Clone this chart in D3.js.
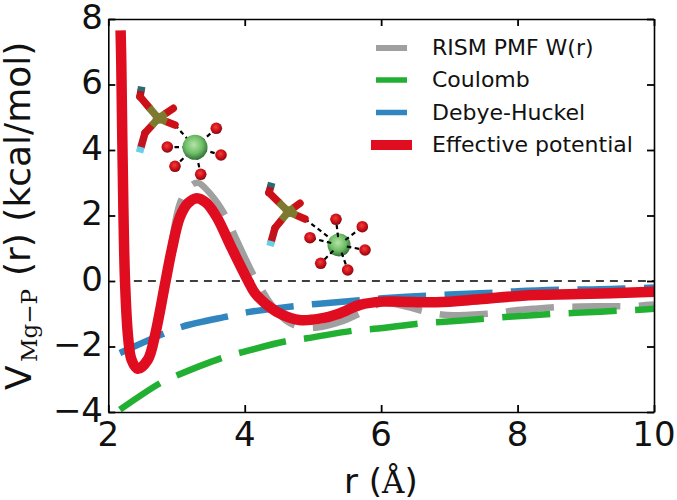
<!DOCTYPE html>
<html><head><meta charset="utf-8">
<script src="https://cdnjs.cloudflare.com/ajax/libs/d3/7.8.5/d3.min.js"></script>
<style>html,body{margin:0;padding:0;background:#fff}svg{display:block}text{font-family:"DejaVu Sans";fill:#111}</style>
</head><body><svg id="c" width="677" height="500"></svg>
<script>
const xTicks=[2,4,6,8,10];
const yTicks=[-4,-2,0,2,4,6,8];
const legendNames=["RISM PMF W(r)","Coulomb","Debye-Huckel","Effective potential"];
const rismR=[2.18,2.21,2.245,2.29,2.34,2.43,2.58,2.68,2.84,2.93,3.05,3.18,3.31,3.5,3.73,3.85,4.15,4.4,4.6,4.8,5.07,5.4,5.73,6.02,6.3,6.68,6.97,7.3,7.68,7.95,8.3,8.66,8.93,9.3,9.65,10];
const rismV=[7.65,3.7,0,-1.7,-2.4,-2.68,-2.4,-1.7,0,1.2,2.38,2.85,3.0,2.65,1.95,1.4,0.1,-0.75,-1.2,-1.4,-1.42,-1.25,-0.95,-0.67,-0.75,-0.95,-1.04,-1.03,-0.98,-0.9,-0.84,-0.79,-0.78,-0.77,-0.77,-0.72];
const coulombR=[2.17,2.76,3.02,3.68,3.95,4.63,4.91,5.61,5.9,6.6,6.88,7.59,7.87,8.57,8.86,9.57,9.85,10];
const coulombV=[-3.93,-3.12,-2.87,-2.34,-2.18,-1.83,-1.75,-1.51,-1.46,-1.29,-1.25,-1.14,-1.09,-1.0,-0.97,-0.9,-0.87,-0.85];
const debyeR=[2.17,2.8,3.09,3.78,4.05,4.76,5.05,5.73,6.02,6.73,7,7.72,8,8.7,9,9.7,10];
const debyeV=[-2.2,-1.62,-1.39,-1.07,-0.95,-0.76,-0.7,-0.58,-0.53,-0.44,-0.41,-0.35,-0.31,-0.26,-0.26,-0.22,-0.2];
const effR=[2.18,2.19,2.21,2.245,2.29,2.34,2.43,2.58,2.68,2.84,2.93,3.05,3.17,3.3,3.44,3.59,3.81,4.05,4.15,4.37,4.56,4.8,5.1,5.39,5.69,6.02,6.27,6.81,7.44,8.07,8.9,10];
const effV=[7.65,6.7,3.69,0,-1.7,-2.4,-2.68,-2.4,-1.7,0,0.95,1.95,2.38,2.53,2.38,1.95,1,0,-0.37,-0.8,-1.04,-1.19,-1.15,-0.99,-0.73,-0.63,-0.63,-0.65,-0.56,-0.45,-0.4,-0.33];
const zeroR=[2.17,10];
const zeroV=[0,0];

const svg=d3.select("#c");
const x=d3.scaleLinear().domain([2,10]).range([108.3,654]);
const y=d3.scaleLinear().domain([-4,8]).range([412,19]);
const line=d3.line().x(d=>x(d[0])).y(d=>y(d[1])).curve(d3.curveCatmullRom.alpha(0.5));
const zip=(a,b)=>a.map((v,i)=>[v,b[i]]);
const cols={g:"#a0a0a0",c:"#22b033",b:"#3186c0",r:"#e00c20"};

// gradients
const defs=svg.append("defs");
function grad(id,c0,c1,c2){const g=defs.append("radialGradient").attr("id",id).attr("cx","45%").attr("cy","40%").attr("r","62%");
 g.append("stop").attr("offset","0%").attr("stop-color",c0);g.append("stop").attr("offset","55%").attr("stop-color",c1);g.append("stop").attr("offset","100%").attr("stop-color",c2);}
grad("mg","#b6e3a6","#6fbf68","#2f6b35");
grad("ox","#f0403c","#d01018","#7a0a10");

// zero line
svg.append("path").attr("d",line(zip(zeroR,zeroV))).attr("fill","none").attr("stroke","#000").attr("stroke-width",1.4).attr("stroke-dasharray","8 6");

// curves
const curves=[[rismR,rismV,cols.g,6.5,"48 18.5",-6],[coulombR,coulombV,cols.c,6.5,"48 18.5",0],[debyeR,debyeV,cols.b,6.5,"48 18.5",0]];
curves.forEach(c=>svg.append("path").attr("d",line(zip(c[0],c[1]))).attr("fill","none").attr("stroke",c[2]).attr("stroke-width",c[3]).attr("stroke-dasharray",c[4]).attr("stroke-dashoffset",c[5]));
svg.append("path").attr("d",line(zip(effR,effV))).attr("fill","none").attr("stroke",cols.r).attr("stroke-width",10.5).attr("stroke-linejoin","round");

// molecules
function molecule(P,tip,side,up,teal,low,cyan,Mg,rMg,oxs){
 const g=svg.append("g");
 const bond=(a,b,col,w)=>g.append("line").attr("x1",a[0]).attr("y1",a[1]).attr("x2",b[0]).attr("y2",b[1]).attr("stroke",col).attr("stroke-width",w);
 const lerp=(a,b,f)=>[a[0]+(b[0]-a[0])*f,a[1]+(b[1]-a[1])*f];
 oxs.forEach(o=>bond(Mg,o,"#000",2.2).attr("stroke-dasharray","4.5 3.5"));
 bond(tip,Mg,"#000",2.2).attr("stroke-dasharray","4.5 3.5");
 bond(up,lerp(up,teal,0.55),"#b01420",7.5).attr("stroke-linecap","round");bond(lerp(up,teal,0.55),teal,"#2c6a72",7.5);
 bond(low,lerp(low,cyan,0.72),"#c01420",7.5).attr("stroke-linecap","round");bond(lerp(low,cyan,0.72),cyan,"#66d0e4",7.5);
 [tip,side,up,low].forEach(e=>{const m=lerp(P,e,0.5);bond(m,e,"#cc1018",7.5).attr("stroke-linecap","round");bond(P,m,"#7d7a30",7.5);});
 g.append("circle").attr("cx",P[0]).attr("cy",P[1]).attr("r",5.5).attr("fill","#7d7a30");
 oxs.forEach(o=>g.append("circle").attr("cx",o[0]).attr("cy",o[1]).attr("r",5.8).attr("fill","url(#ox)"));
 g.append("circle").attr("cx",Mg[0]).attr("cy",Mg[1]).attr("r",rMg).attr("fill","url(#mg)");
 oxs.forEach(o=>{const t=rMg+0.5,d=Math.hypot(o[0]-Mg[0],o[1]-Mg[1]);if(rMg<12)bond(lerp(Mg,o,(t-4)/d),lerp(Mg,o,t/d),"#000",2);});
}
molecule([158.3,118.3],[175,125],[173.3,108.3],[140,96.7],[141.7,86.7],[145,133],[139.5,152.5],[195,147.3],12.5,
 [[216.3,128.3],[221,155],[200.7,174.3],[175,166.3],[167.3,147]]);
molecule([288.3,211.7],[305,219],[300,203.3],[269,192.7],[271.7,182.7],[275,228],[270,246],[339,245],11.5,
 [[336,219.3],[362.3,226.7],[365,250],[347.7,270],[320.7,263.3],[310,237.7]]);

// legend
const legendY=[48,80,112.5,145];
const legendStyle=[[376,407,cols.g,6],[376,407,cols.c,5.5],[376,407,cols.b,5.5],[371,412,cols.r,10]];
legendNames.forEach((n,i)=>{const s=legendStyle[i];
 svg.append("line").attr("x1",s[0]).attr("x2",s[1]).attr("y1",legendY[i]).attr("y2",legendY[i]).attr("stroke",s[2]).attr("stroke-width",s[3]);
 svg.append("text").attr("x",432).attr("y",legendY[i]+7).attr("font-size",22).text(n);});

// axes
const T=7;
function styleAxis(g){g.select(".domain").attr("stroke","#000").attr("stroke-width",1.6);g.selectAll(".tick line").attr("stroke","#000").attr("stroke-width",1.8);g.selectAll("text").remove();}
svg.append("g").attr("transform","translate(0,412)").call(d3.axisBottom(x).tickValues(xTicks).tickSize(-T).tickSizeOuter(0)).call(styleAxis);
svg.append("g").attr("transform","translate(0,19)").call(d3.axisTop(x).tickValues(xTicks).tickSize(-T).tickSizeOuter(0)).call(styleAxis);
svg.append("g").attr("transform","translate(108.3,0)").call(d3.axisLeft(y).tickValues(yTicks).tickSize(-T).tickSizeOuter(0)).call(styleAxis);
svg.append("g").attr("transform","translate(654,0)").call(d3.axisRight(y).tickValues(yTicks).tickSize(-T).tickSizeOuter(0)).call(styleAxis);

xTicks.forEach(t=>svg.append("text").attr("x",x(t)).attr("y",446).attr("text-anchor","middle").attr("font-size",34).text(t));
yTicks.forEach(t=>svg.append("text").attr("x",103).attr("y",y(t)+9.5).attr("text-anchor","end").attr("font-size",34).text(String(t).replace("-","\u2212")));

// axis labels
const xl=svg.append("text").attr("x",344).attr("y",493).attr("font-size",34);
xl.append("tspan").text("r (");
xl.append("tspan").style("font-family","'DejaVu Serif'").attr("font-size",31).text("\u00c5");
xl.append("tspan").text(")");
const rot=(px,py)=>`translate(${px},${py}) rotate(-90)`;
svg.append("text").attr("transform",rot(31,390)).attr("font-size",36).text("V");
svg.append("text").attr("transform",rot(37,362)).attr("font-size",23).style("font-family","'DejaVu Serif'").text("Mg\u2212P");
svg.append("text").attr("transform",rot(30,276)).attr("font-size",36).text("(r) (kcal/mol)");
</script></body></html>
